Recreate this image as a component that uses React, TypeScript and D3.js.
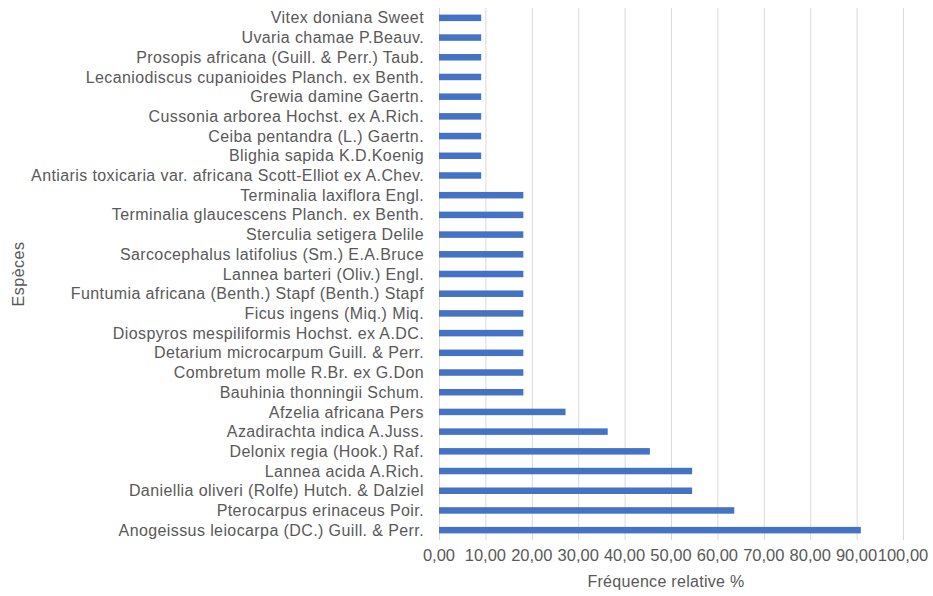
import React, { useRef, useEffect } from 'react';
import * as d3 from 'd3';

const species = [
  'Vitex doniana Sweet',
  'Uvaria chamae P.Beauv.',
  'Prosopis africana (Guill. & Perr.) Taub.',
  'Lecaniodiscus cupanioides Planch. ex Benth.',
  'Grewia damine Gaertn.',
  'Cussonia arborea Hochst. ex A.Rich.',
  'Ceiba pentandra (L.) Gaertn.',
  'Blighia sapida K.D.Koenig',
  'Antiaris toxicaria var. africana Scott-Elliot ex A.Chev.',
  'Terminalia laxiflora Engl.',
  'Terminalia glaucescens Planch. ex Benth.',
  'Sterculia setigera Delile',
  'Sarcocephalus latifolius (Sm.) E.A.Bruce',
  'Lannea barteri (Oliv.) Engl.',
  'Funtumia africana (Benth.) Stapf (Benth.) Stapf',
  'Ficus ingens (Miq.) Miq.',
  'Diospyros mespiliformis Hochst. ex A.DC. ',
  'Detarium microcarpum Guill. & Perr.',
  'Combretum molle R.Br. ex G.Don',
  'Bauhinia thonningii Schum.',
  'Afzelia africana Pers',
  'Azadirachta indica A.Juss.',
  'Delonix regia (Hook.) Raf.',
  'Lannea acida A.Rich.',
  'Daniellia oliveri (Rolfe) Hutch. & Dalziel',
  'Pterocarpus erinaceus Poir.',
  'Anogeissus leiocarpa (DC.) Guill. & Perr.',
];

const frequency = [
  9.09, 9.09, 9.09, 9.09, 9.09, 9.09, 9.09, 9.09, 9.09,
  18.18, 18.18, 18.18, 18.18, 18.18, 18.18, 18.18, 18.18, 18.18, 18.18, 18.18,
  27.27, 36.36, 45.45, 54.55, 54.55, 63.64, 90.91,
];

const xTicks = [0, 10, 20, 30, 40, 50, 60, 70, 80, 90, 100];

const width = 933;
const height = 596;

const App = () => {
  const ref = useRef<SVGSVGElement | null>(null);

  useEffect(() => {
    if (!ref.current) return;
    const margin = { top: 8, right: 30, bottom: 56, left: 439 };
    const textColor = '#595959';
    const font = '"Liberation Sans", Arial, sans-serif';

    const x = d3
      .scaleLinear()
      .domain([0, 100])
      .range([margin.left, width - margin.right]);

    const y = d3
      .scaleBand()
      .domain(species)
      .range([margin.top, height - margin.bottom])
      .paddingInner(0.67)
      .paddingOuter(0.335);

    const svg = d3.select(ref.current);
    svg.selectAll('*').remove();

    // gridlines
    svg
      .append('g')
      .selectAll('line')
      .data(xTicks)
      .join('line')
      .attr('x1', (d) => x(d) + 0.5)
      .attr('x2', (d) => x(d) + 0.5)
      .attr('y1', margin.top)
      .attr('y2', height - margin.bottom)
      .attr('stroke', '#d9d9d9')
      .attr('stroke-width', 1);

    // bars
    svg
      .append('g')
      .attr('fill', '#4472c4')
      .selectAll('rect')
      .data(species.map((s, i) => ({ s, v: frequency[i] })))
      .join('rect')
      .attr('x', x(0))
      .attr('y', (d) => y(d.s) || 0)
      .attr('width', (d) => x(d.v) - x(0))
      .attr('height', y.bandwidth());

    // y labels
    svg
      .append('g')
      .selectAll('text')
      .data(species)
      .join('text')
      .attr('x', margin.left - 15)
      .attr('y', (d) => (y(d) || 0) + y.bandwidth() / 2)
      .attr('dy', '0.35em')
      .attr('text-anchor', 'end')
      .attr('fill', textColor)
      .style('font', `16px ${font}`)
      .style('letter-spacing', '0.4px')
      .text((d) => d);

    // x tick labels
    svg
      .append('g')
      .selectAll('text')
      .data(xTicks)
      .join('text')
      .attr('x', (d) => x(d))
      .attr('y', height - margin.bottom + 15)
      .attr('dy', '0.35em')
      .attr('text-anchor', 'middle')
      .attr('fill', textColor)
      .style('font', `16.5px ${font}`)
      .text((d) => d3.format('.2f')(d).replace('.', ','));

    svg
      .append('text')
      .attr('x', 666)
      .attr('y', 581)
      .attr('dy', '0.35em')
      .attr('text-anchor', 'middle')
      .attr('fill', textColor)
      .style('font', `16px ${font}`)
      .style('letter-spacing', '0.3px')
      .text('Fréquence relative %');

    svg
      .append('text')
      .attr('transform', `translate(18,${(margin.top + height - margin.bottom) / 2}) rotate(-90)`)
      .attr('dy', '0.35em')
      .attr('text-anchor', 'middle')
      .attr('fill', textColor)
      .style('font', `16px ${font}`)
      .style('letter-spacing', '0.5px')
      .text('Espèces');
  });

  return (
    <svg
      ref={ref}
      width={width}
      height={height}
      viewBox={`0 0 ${width} ${height}`}
      style={{ position: 'absolute', left: 0, top: 0, background: '#fff' }}
    />
  );
};

export default App;
